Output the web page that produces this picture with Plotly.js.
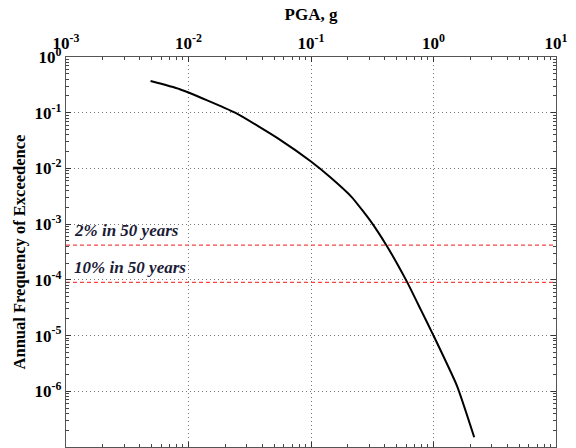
<!DOCTYPE html>
<html>
<head>
<meta charset="utf-8">
<script src="https://cdn.plot.ly/plotly-3.0.1.min.js"></script>
<style>html,body{margin:0;padding:0;background:#fff;}#chart{width:576px;height:448px;}</style>
</head>
<body>
<div id="chart"></div>
<script>
// Hazard curve
const pga = [0.0049, 0.0085, 0.024, 0.056, 0.1, 0.143, 0.215, 0.267, 0.319, 0.41, 0.501, 0.611, 0.787, 1.0, 1.56, 2.15];
const afe  = [0.37, 0.264, 0.1, 0.0326, 0.0133, 7.0e-3, 3.06e-3, 1.69e-3, 1.0e-3, 4.27e-4, 2.01e-4, 9.0e-5, 2.92e-5, 1.0e-5, 1.23e-6, 1.5e-7];

// Hazard levels
const levelNames  = ['2% in 50 years', '10% in 50 years'];
const levelValues = [4.2e-4, 9.0e-5];

// Axis ticks
const xTickVals = [1e-3, 1e-2, 1e-1, 1e0, 1e1];
const xTickText = ['10<sup>-3</sup>', '10<sup>-2</sup>', '10<sup>-1</sup>', '10<sup>0</sup>', '10<sup>1</sup>'];
const yTickVals = [1e-7, 1e-6, 1e-5, 1e-4, 1e-3, 1e-2, 1e-1, 1e0];
const yTickText = ['10<sup>-7</sup>', '10<sup>-6</sup>', '10<sup>-5</sup>', '10<sup>-4</sup>', '10<sup>-3</sup>', '10<sup>-2</sup>', '10<sup>-1</sup>', '10<sup>0</sup>'];

const xRange = [1e-3, 1e1];
const yRange = [1e-7, 1e0];

const serif = 'Liberation Serif, Times New Roman, serif';

const traces = [];
levelValues.forEach((v, i) => {
  traces.push({
    x: xRange, y: [v, v], mode: 'lines', type: 'scatter',
    line: {color: 'rgb(245,70,70)', width: 1.2, dash: '4px,3px'},
    hoverinfo: 'skip', showlegend: false
  });
});
traces.push({
  x: pga, y: afe, mode: 'lines', type: 'scatter',
  line: {color: '#000', width: 2, shape: 'spline', smoothing: 0.5},
  showlegend: false
});

const annotations = levelValues.map((v, i) => ({
  xref: 'paper', yref: 'y', x: 0.012, y: Math.log10(v),
  xanchor: 'left', yanchor: 'bottom', yshift: 3, showarrow: false,
  text: '<b><i>' + levelNames[i] + '</i></b>',
  font: {family: serif, size: 17, color: '#1c1c38'}
}));

const axisCommon = {
  type: 'log', showline: true, linecolor: '#555', linewidth: 1.2, mirror: 'allticks',
  ticks: 'inside', ticklen: 5, tickcolor: '#333', tickwidth: 1,
  showgrid: true, gridcolor: '#777', griddash: '1px,3px', gridwidth: 1,
  zeroline: false, tickmode: 'array',
  tickfont: {family: serif, size: 17, color: '#000', weight: 'bold'},
  minor: {ticks: 'inside', ticklen: 3, tickcolor: '#444', showgrid: false, dtick: 'D1'}
};

const layout = {
  width: 576, height: 448,
  margin: {l: 66, r: 20, t: 57, b: 1},
  paper_bgcolor: '#fff', plot_bgcolor: '#fff',
  showlegend: false,
  xaxis: Object.assign({}, axisCommon, {
    side: 'top', range: [Math.log10(xRange[0]), Math.log10(xRange[1])],
    tickvals: xTickVals, ticktext: xTickText.map(t => '<b>' + t + '</b>'),
    title: {text: '<b>PGA, g</b>', font: {family: serif, size: 17, color: '#000'}, standoff: 6}
  }),
  yaxis: Object.assign({}, axisCommon, {
    range: [Math.log10(yRange[0]), Math.log10(yRange[1])],
    tickvals: yTickVals, ticktext: yTickText.map(t => '<b>' + t + '</b>'),
    title: {text: '<b>Annual Frequency of Exceedence</b>', font: {family: serif, size: 16.5, color: '#000'}, standoff: 4}
  }),
  annotations: annotations
};

Plotly.newPlot('chart', traces, layout, {displayModeBar: false, staticPlot: true});
</script>
</body>
</html>
